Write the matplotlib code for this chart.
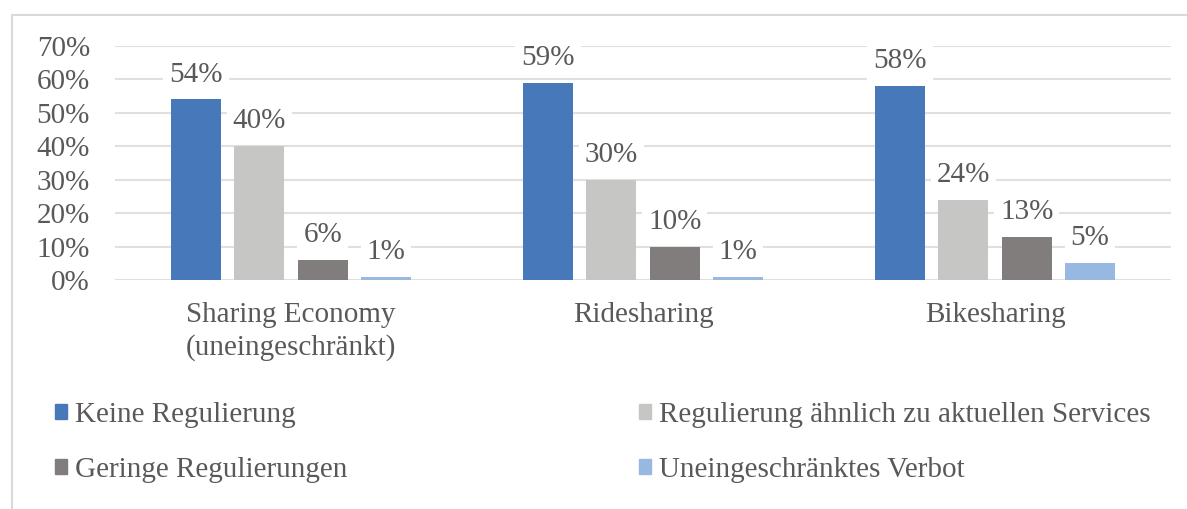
import matplotlib
matplotlib.use("Agg")
import matplotlib.pyplot as plt
from matplotlib.patches import Rectangle, Patch
import numpy as np

categories = ["Sharing Economy\n(uneingeschränkt)", "Ridesharing", "Bikesharing"]
series = ["Keine Regulierung", "Regulierung ähnlich zu aktuellen Services",
          "Geringe Regulierungen", "Uneingeschränktes Verbot"]
values = {
    "Keine Regulierung": [54, 59, 58],
    "Regulierung ähnlich zu aktuellen Services": [40, 30, 24],
    "Geringe Regulierungen": [6, 10, 13],
    "Uneingeschränktes Verbot": [1, 1, 5],
}
colors = ["#4779BA", "#C6C6C4", "#817D7C", "#97B8E0"]
yticks = [0, 10, 20, 30, 40, 50, 60, 70]

plt.rcParams['font.family'] = ['Liberation Serif', 'DejaVu Serif']
txt = "#595959"

fig = plt.figure(figsize=(11.87, 5.09), dpi=100)
ax = fig.add_axes([115/1187, 1-280/509, (1171-115)/1187, (280-46)/509])

x = np.arange(len(categories))
width = 0.142
step = 0.18
offsets = (np.arange(len(series)) - 1.5) * step
for i, s in enumerate(series):
    bars = ax.bar(x + offsets[i], values[s], width, color=colors[i], zorder=3)
    for b, v in zip(bars, values[s]):
        ax.annotate(f"{v}%", (b.get_x() + b.get_width()/2, v), xytext=(0, 8.5),
                    textcoords="offset points", ha="center", va="bottom",
                    fontsize=21, color=txt, zorder=4,
                    bbox=dict(boxstyle="square,pad=0.2", fc="white", ec="none"))

ax.set_xlim(-0.5, 2.5)
ax.set_ylim(0, 70)
ax.set_yticks(yticks)
ax.set_yticklabels([f"{t}%" for t in yticks])
ax.set_xticks(x)
ax.set_xticklabels(categories, linespacing=1.3)
ax.grid(axis="y", color="#E0E0E0", linewidth=1.5, zorder=0)
for sp in ax.spines.values():
    sp.set_visible(False)
ax.tick_params(axis="both", length=0, labelsize=21, colors=txt)
ax.tick_params(axis="x", pad=16)
ax.tick_params(axis="y", pad=18)

handles = [Patch(color=colors[0]), Patch(color=colors[2]),
           Patch(color=colors[1]), Patch(color=colors[3])]
labels = [series[0], series[2], series[1], series[3]]
leg = fig.legend(handles, labels, ncol=2, loc="upper left",
                 bbox_to_anchor=(55/1187, 1-402/509),
                 frameon=False, fontsize=21, borderpad=0,
                 handlelength=0.41, handleheight=0.41, handletextpad=0.27,
                 labelspacing=1.0, columnspacing=10.0, borderaxespad=0)
for t in leg.get_texts():
    t.set_color(txt)

fig.patches.append(Rectangle((12/1187, -0.01), 1.2, 1 - 15/509 + 0.01,
                             transform=fig.transFigure, fill=False,
                             ec="#D9D9D9", lw=1.5, zorder=0))

fig.savefig("out.png", dpi=100)
